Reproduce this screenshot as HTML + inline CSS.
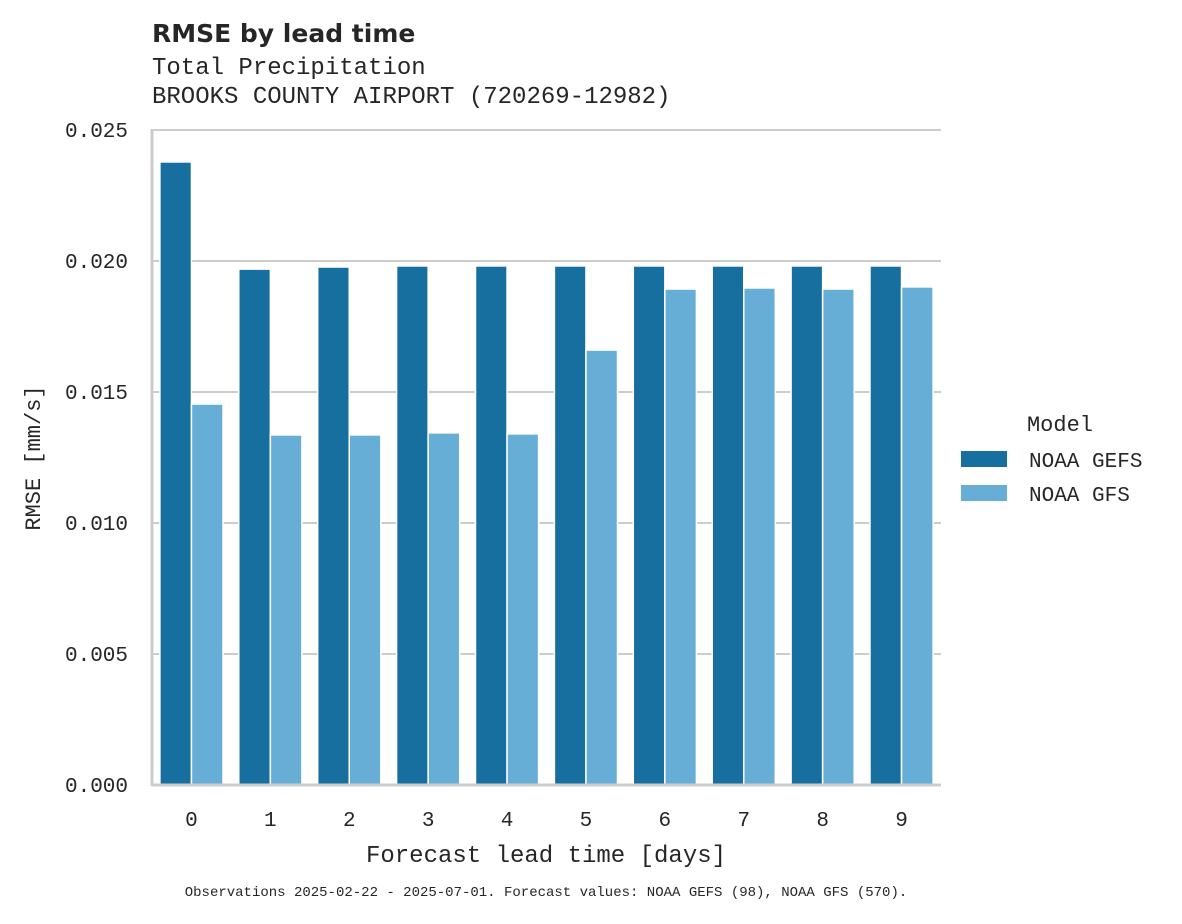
<!DOCTYPE html>
<html><head><meta charset="utf-8"><style>
body{margin:0;background:#fff;}
svg text{font-family:"Liberation Mono",monospace;fill:#262626;}
</style></head><body>
<svg id="chart" width="1182" height="919" xmlns="http://www.w3.org/2000/svg">
<text x="152" y="42" style="font-family:'DejaVu Sans',sans-serif;font-weight:bold;font-size:25px">RMSE by lead time</text>
<text x="152" y="74" font-size="24">Total Precipitation</text>
<text x="152" y="103" font-size="24">BROOKS COUNTY AIRPORT (720269-12982)</text>
<g id="grid"></g>
<g id="bars"></g>
<g id="axes"></g>
<text transform="translate(40,458) rotate(-90)" text-anchor="middle" font-size="22">RMSE [mm/s]</text>
<text x="546" y="862" text-anchor="middle" font-size="24">Forecast lead time [days]</text>
<text x="546" y="896" text-anchor="middle" font-size="14">Observations 2025-02-22 - 2025-07-01. Forecast values: NOAA GEFS (98), NOAA GFS (570).</text>
<g>
<text x="1060" y="431" text-anchor="middle" font-size="22">Model</text>
<rect x="961" y="451" width="46" height="16" fill="#176f9f"/>
<text x="1029" y="467" font-size="21">NOAA GEFS</text>
<rect x="961" y="485" width="46" height="16" fill="#67aed6"/>
<text x="1029" y="501" font-size="21">NOAA GFS</text>
</g>
</svg>
<script>
const categories=["0","1","2","3","4","5","6","7","8","9"];
const gefs=[0.02378,0.01969,0.01977,0.01981,0.01981,0.01981,0.01981,0.01981,0.01981,0.01981];
const gfs=[0.01454,0.01336,0.01336,0.01344,0.0134,0.0166,0.01893,0.01897,0.01893,0.01901];
const yTicks=[0,0.005,0.01,0.015,0.02,0.025];
const yTickLabels=["0.000","0.005","0.010","0.015","0.020","0.025"];
const NS="http://www.w3.org/2000/svg";
const x0=152,x1=941,yB=785,yT=130,yMax=0.025;
const y=v=>yB-(v/yMax)*(yB-yT);
const bw=(x1-x0)/categories.length;
const xc=i=>x0+bw*(i+0.5);
function mk(tag,attrs,parent){const e=document.createElementNS(NS,tag);for(const k in attrs)e.setAttribute(k,attrs[k]);document.getElementById(parent).appendChild(e);return e;}
yTicks.forEach((t,i)=>{
 const l=mk('line',{x1:x0,x2:x1,y1:y(t),y2:y(t),stroke:'#cccccc','stroke-width':2},'grid');
 
 
 const tx=mk('text',{x:128,y:y(t)+7,'text-anchor':'end','font-size':21},'axes');
 tx.textContent=yTickLabels[i];
 
 
});
categories.forEach((c,i)=>{
 const w=bw*0.4;
 const a=mk('rect',{x:xc(i)-w,y:y(gefs[i]),width:w,height:yB-y(gefs[i]),fill:'#176f9f',stroke:'#fff','stroke-width':1.5},'bars');
 
 
 const b=mk('rect',{x:xc(i),y:y(gfs[i]),width:w,height:yB-y(gfs[i]),fill:'#67aed6',stroke:'#fff','stroke-width':1.5},'bars');
 
 
 const tx=mk('text',{x:xc(i),y:826,'text-anchor':'middle','font-size':21},'axes');
 tx.textContent=c;
 
 
});
const ls=mk('line',{x1:x0,x2:x0,y1:yT-1,y2:yB+1,stroke:'#cccccc','stroke-width':3},'axes');


const bs=mk('line',{x1:x0,x2:x1,y1:yB,y2:yB,stroke:'#cccccc','stroke-width':3},'axes');


</script>
</body></html>
